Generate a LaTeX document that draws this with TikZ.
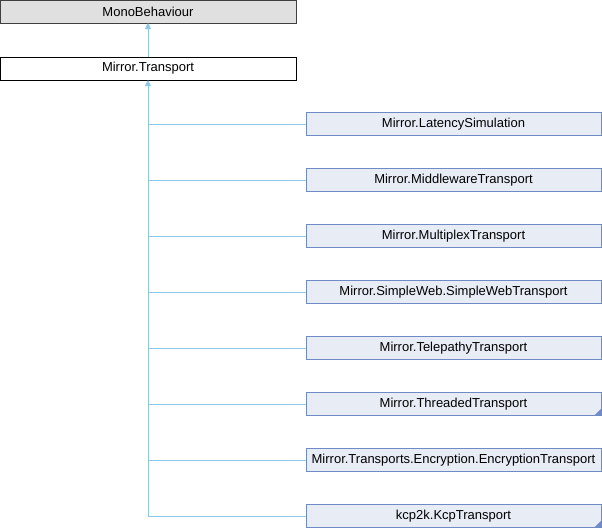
\documentclass[tikz,border=0pt]{standalone}
\usepackage{fontspec}
\setmainfont{Liberation Sans}
\usetikzlibrary{arrows.meta}
\definecolor{edgeblue}{HTML}{8CC8EA}
\definecolor{boxfill}{HTML}{E8ECF5}
\definecolor{boxline}{HTML}{6E8BC6}
\definecolor{basefill}{HTML}{E0E0E0}
\definecolor{baseline}{HTML}{404040}
\begin{document}
\begin{tikzpicture}[x=1pt,y=-1pt,
  every node/.style={font=\fontsize{13}{15}\selectfont, inner sep=0pt, outer sep=0pt},
  basebox/.style={draw=baseline, fill=basefill, line width=1pt, minimum width=296pt, minimum height=23pt},
  parentbox/.style={draw=black, fill=white, line width=1pt, minimum width=296pt, minimum height=23pt},
  childbox/.style={draw=boxline, fill=boxfill, line width=1pt, minimum width=295pt, minimum height=23.5pt},
  inh/.style={draw=edgeblue, line width=1pt},
  inharrow/.style={inh, -{Triangle[open, length=6pt, width=6pt, fill=edgeblue]}},
  corner/.style={fill=boxline}
]
\useasboundingbox (0,0) rectangle (602,528);
\node[basebox] (mono) at (148,11.5) {MonoBehaviour};
\node[parentbox] (transport) at (148,68.5) {Mirror.Transport};
\draw[inharrow] (transport.north) -- (mono.south);

\node[childbox] (c1) at (453.5,124) {Mirror.LatencySimulation};
\node[childbox] (c2) at (453.5,180) {Mirror.MiddlewareTransport};
\node[childbox] (c3) at (453.5,236) {Mirror.MultiplexTransport};
\node[childbox] (c4) at (453.5,292) {Mirror.SimpleWeb.SimpleWebTransport};
\node[childbox] (c5) at (453.5,348) {Mirror.TelepathyTransport};
\node[childbox] (c6) at (453.5,404) {Mirror.ThreadedTransport};
\node[childbox] (c7) at (453.5,460) {Mirror.Transports.Encryption.EncryptionTransport};
\node[childbox] (c8) at (453.5,516) {kcp2k.KcpTransport};

\coordinate (trunk) at (148,516);
\draw[inh] (trunk) -- (c8.west);
\foreach \c in {c1,c2,c3,c4,c5,c6,c7} {
  \draw[inh] (148,0 |- \c.west) -- (\c.west);
}
\draw[inharrow] (trunk) -- (transport.south);

\fill[corner] (c6.south east) -- ++(0,-7) -- ++(-7,7) -- cycle;
\fill[corner] (c8.south east) -- ++(0,-7) -- ++(-7,7) -- cycle;
\end{tikzpicture}
\end{document}
